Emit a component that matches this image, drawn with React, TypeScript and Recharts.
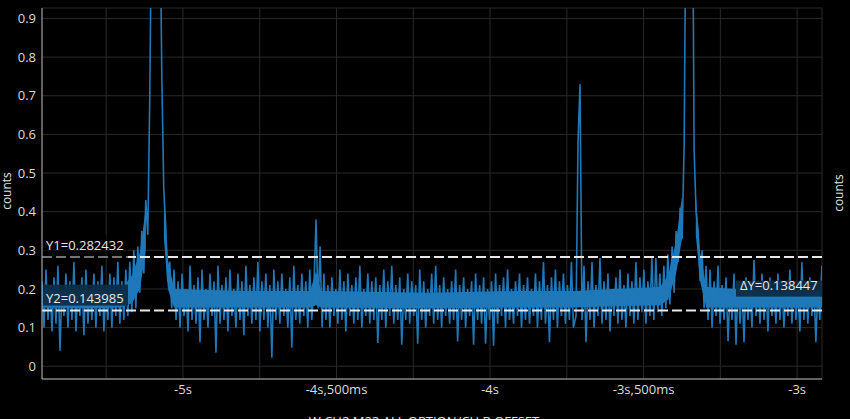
import {
  ComposedChart,
  Line,
  Area,
  XAxis,
  YAxis,
  CartesianGrid,
  ReferenceLine,
} from 'recharts'

// sample spacing of the trace (seconds)
const sampleStep = 0.0065

// trace segments, alternating upper / lower excursions of the noise
const baselineLeft = [
  0.22, 0.10, 0.25, 0.12, 0.21, 0.09, 0.23, 0.11, 0.26, 0.04,
  0.20, 0.13, 0.24, 0.10, 0.22, 0.12, 0.27, 0.09, 0.21, 0.13,
  0.23, 0.08, 0.25, 0.11, 0.20, 0.12, 0.24, 0.10, 0.22, 0.13,
  0.26, 0.09, 0.21, 0.12, 0.24, 0.10, 0.23, 0.13, 0.27, 0.11,
  0.22, 0.12,
]
const peakA = [
  0.25, 0.13, 0.27, 0.14, 0.30, 0.15, 0.31, 0.19, 0.35, 0.24,
  0.43, 0.34, 0.70, 1.25, 1.1, 1.3, 1.1, 1.25, 0.76, 0.46,
  0.36, 0.22, 0.27, 0.15,
]
const baselineB = [
  0.25, 0.12, 0.22, 0.10, 0.24, 0.13, 0.20, 0.09, 0.26, 0.12,
  0.21, 0.11, 0.23, 0.062, 0.25, 0.12, 0.20, 0.10, 0.24, 0.13,
  0.22, 0.035, 0.26, 0.11, 0.21, 0.12, 0.23, 0.09, 0.25, 0.13,
  0.20, 0.10, 0.24, 0.12, 0.22, 0.08, 0.26, 0.13, 0.21, 0.11,
  0.23, 0.12, 0.27, 0.09, 0.22, 0.12, 0.24, 0.10, 0.21, 0.022,
  0.25, 0.12, 0.22, 0.11, 0.24, 0.13, 0.20, 0.10, 0.23, 0.048,
  0.26, 0.12, 0.21, 0.11, 0.24, 0.13, 0.22, 0.10, 0.25, 0.12,
]
const spikeSmall = [0.22, 0.38, 0.15, 0.31, 0.10]
const baselineC = [
  0.24, 0.12, 0.21, 0.10, 0.23, 0.13, 0.20, 0.11, 0.25, 0.12,
  0.22, 0.09, 0.24, 0.13, 0.21, 0.11, 0.23, 0.12, 0.26, 0.10,
  0.20, 0.13, 0.24, 0.11, 0.22, 0.12, 0.23, 0.06, 0.21, 0.12,
  0.25, 0.10, 0.22, 0.13, 0.26, 0.11, 0.21, 0.12, 0.23, 0.056,
  0.20, 0.12, 0.24, 0.11, 0.22, 0.13, 0.21, 0.058, 0.25, 0.12,
  0.22, 0.10, 0.20, 0.13, 0.24, 0.11, 0.26, 0.12, 0.21, 0.10,
  0.23, 0.13, 0.20, 0.11, 0.22, 0.12, 0.25, 0.064, 0.21, 0.12,
  0.23, 0.10, 0.20, 0.13, 0.22, 0.056, 0.24, 0.12, 0.21, 0.11,
  0.23, 0.058, 0.20, 0.12, 0.22, 0.053, 0.24, 0.11, 0.21, 0.13,
  0.23, 0.10, 0.25, 0.12, 0.20, 0.11, 0.22, 0.13, 0.24, 0.10,
  0.21, 0.12, 0.23, 0.11, 0.20, 0.13, 0.24, 0.10, 0.22, 0.12,
  0.27, 0.11, 0.21, 0.062, 0.23, 0.12, 0.25, 0.10, 0.22, 0.13,
  0.24, 0.11, 0.21, 0.12, 0.27, 0.10,
]
const spikeTall = [0.13, 0.58, 0.73, 0.12, 0.26, 0.062]
const baselineD = [
  0.22, 0.12, 0.27, 0.10, 0.21, 0.13, 0.28, 0.11, 0.22, 0.12,
  0.24, 0.09, 0.20, 0.13, 0.23, 0.11, 0.25, 0.12, 0.21, 0.10,
  0.24, 0.13, 0.22, 0.11, 0.27, 0.12, 0.23, 0.14, 0.25, 0.11,
  0.22, 0.13, 0.28, 0.12, 0.28, 0.14, 0.24, 0.13, 0.26, 0.15,
  0.29, 0.16,
]
const peakB = [
  0.31, 0.19, 0.35, 0.27, 0.41, 0.33, 0.57, 1.25, 1.1, 1.3,
  1.5, 0.56, 0.40, 0.35, 0.22, 0.30, 0.15, 0.26,
]
const baselineRight = [
  0.12, 0.25, 0.10, 0.22, 0.13, 0.26, 0.11, 0.21, 0.12, 0.23,
  0.065, 0.20, 0.12, 0.24, 0.056, 0.22, 0.11, 0.21, 0.062, 0.23,
  0.12, 0.20, 0.10, 0.275, 0.13, 0.22, 0.11, 0.24, 0.12, 0.21,
  0.09, 0.23, 0.13, 0.20, 0.11, 0.24, 0.12, 0.22, 0.10, 0.21,
  0.13, 0.25, 0.11, 0.22, 0.12, 0.20, 0.09, 0.27, 0.12, 0.21,
  0.11, 0.23, 0.13, 0.22, 0.062, 0.20, 0.12, 0.26,
]

// start time of each segment (s)
const segments = [
  { start: -5.459, values: baselineLeft },
  { start: -5.186, values: peakA },
  { start: -5.029, values: baselineB },
  { start: -4.573, values: spikeSmall },
  { start: -4.541, values: baselineC },
  { start: -3.72, values: spikeTall },
  { start: -3.681, values: baselineD },
  { start: -3.407, values: peakB },
  { start: -3.29, values: baselineRight },
]

// dense core of the trace (where samples overlap into a solid band)
const bandTimes = [
  -5.459, -5.3, -5.205, -5.166, -5.14, -5.121, -5.091, -5.062, -5.049, -5.029,
  -4.8, -4.586, -4.567, -4.55, -4.2, -3.9, -3.726, -3.6, -3.446, -3.42,
  -3.394, -3.375, -3.352, -3.33, -3.316, -3.296, -3.1, -2.919,
]
const bandLow = [
  0.152, 0.15, 0.152, 0.163, 0.2, 0.3, null, 0.33, 0.2, 0.152,
  0.152, 0.152, 0.158, 0.152, 0.15, 0.152, 0.152, 0.155, 0.158, 0.172,
  0.24, 0.33, null, 0.34, 0.22, 0.152, 0.152, 0.152,
]
const bandHigh = [
  0.195, 0.197, 0.195, 0.235, 0.295, 0.41, null, 0.44, 0.275, 0.2,
  0.195, 0.195, 0.245, 0.195, 0.19, 0.195, 0.195, 0.2, 0.205, 0.235,
  0.325, 0.44, null, 0.44, 0.295, 0.205, 0.195, 0.195,
]

const cursorY1 = 0.282432
const cursorY2 = 0.143985

const xTicks = [-5.25, -5, -4.75, -4.5, -4.25, -4, -3.75, -3.5, -3.25, -3]
const yTicks = [0, 0.1, 0.2, 0.3, 0.4, 0.5, 0.6, 0.7, 0.8, 0.9]

const trace = segments.flatMap((s) =>
  s.values.map((v, i) => ({ t: s.start + i * sampleStep, counts: v }))
)

const band = bandTimes.map((t, i) => ({
  t,
  core: bandLow[i] == null ? null : [bandLow[i], bandHigh[i]],
}))

const FONT = '"Open Sans", "Noto Sans", sans-serif'
const BLUE = '#1f78b8'

function formatTime(v: number) {
  const halves = Math.round(v * 2)
  if (Math.abs(v * 2 - halves) > 1e-6) return ''
  const sec = Math.trunc(v)
  const ms = Math.round(Math.abs(v - sec) * 1000)
  return ms ? `${sec}s,${ms}ms` : `${sec}s`
}

function Y1Label({ viewBox }: any) {
  const { x, y } = viewBox
  return (
    <g>
      <rect x={x} y={y - 23} width={86} height={25} fill="rgba(0,0,0,0.5)" />
      <text x={x + 4} y={y - 7} fill="#e8e8e8" fontSize={13} fontFamily={FONT}>
        {`Y1=${cursorY1.toFixed(6)}`}
      </text>
    </g>
  )
}

function Y2Label({ viewBox }: any) {
  const { x, y, width } = viewBox
  const right = x + width
  return (
    <g>
      <rect x={x + 1} y={y - 26} width={85} height={21} fill="#0c2b42" fillOpacity={0.92} />
      <text x={x + 4} y={y - 8} fill="#e8e8e8" fontSize={13} fontFamily={FONT}>
        {`Y2=${cursorY2.toFixed(6)}`}
      </text>
      <rect x={right - 86} y={y - 30} width={86} height={16} fill="#0c2b42" fillOpacity={0.92} />
      <text x={right - 82} y={y - 21} fill="#e8e8e8" fontSize={13} fontFamily={FONT}>
        {`ΔY=${(cursorY1 - cursorY2).toFixed(6)}`}
      </text>
    </g>
  )
}

export default function App() {
  return (
    <div style={{ position: 'relative', width: 850, height: 419, background: '#000', overflow: 'hidden' }}>
      <style>{`body { margin: 0; background: #000; }`}</style>
      <ComposedChart
        width={850}
        height={419}
        margin={{ top: 8, right: 28, left: 0, bottom: 10 }}
      >
        <CartesianGrid stroke="#2a2a2a" strokeWidth={1} />
        <XAxis
          dataKey="t"
          type="number"
          domain={[-5.459, -2.919]}
          ticks={xTicks}
          tickFormatter={formatTime}
          allowDataOverflow
          interval={0}
          height={30}
          tickLine={false}
          tickSize={0}
          tickMargin={6}
          axisLine={{ stroke: '#b0b0b0' }}
          tick={{ fill: '#dcdcdc', fontSize: 13, fontFamily: FONT }}
        />
        <YAxis
          type="number"
          domain={[-0.033, 0.927]}
          ticks={yTicks}
          allowDataOverflow
          interval={0}
          width={42}
          tickLine={false}
          tickSize={0}
          tickMargin={6}
          axisLine={{ stroke: '#b0b0b0' }}
          tick={{ fill: '#dcdcdc', fontSize: 13, fontFamily: FONT }}
        />
        <Area
          data={band}
          dataKey="core"
          type="linear"
          stroke="none"
          fill={BLUE}
          fillOpacity={1}
          connectNulls={false}
          dot={false}
          activeDot={false}
          isAnimationActive={false}
        />
        <Line
          data={trace}
          type="linear"
          dataKey="counts"
          stroke={BLUE}
          strokeWidth={1.6}
          dot={false}
          activeDot={false}
          isAnimationActive={false}
        />
        <ReferenceLine
          y={cursorY1}
          stroke="#e8e8e8"
          strokeWidth={2}
          strokeDasharray="10 4"
          label={(p: any) => <Y1Label {...p} />}
        />
        <ReferenceLine
          y={cursorY2}
          stroke="#e8e8e8"
          strokeWidth={2}
          strokeDasharray="10 4"
          label={(p: any) => <Y2Label {...p} />}
        />
      </ComposedChart>
      <span style={{ position: 'absolute', left: 6, top: 191, transform: 'translate(-50%, -50%) rotate(-90deg)', color: '#e0e0e0', fontSize: 12, fontFamily: FONT, whiteSpace: 'nowrap' }}>
        counts
      </span>
      <span style={{ position: 'absolute', left: 838, top: 193, transform: 'translate(-50%, -50%) rotate(-90deg)', color: '#e0e0e0', fontSize: 12, fontFamily: FONT, whiteSpace: 'nowrap' }}>
        counts
      </span>
      <span style={{ position: 'absolute', left: 424, top: 412, transform: 'translateX(-50%)', color: '#e0e0e0', fontSize: 13, fontFamily: FONT, whiteSpace: 'nowrap' }}>
        W CH2 M22 ALL OPTION/CH B OFFSET
      </span>
    </div>
  )
}
